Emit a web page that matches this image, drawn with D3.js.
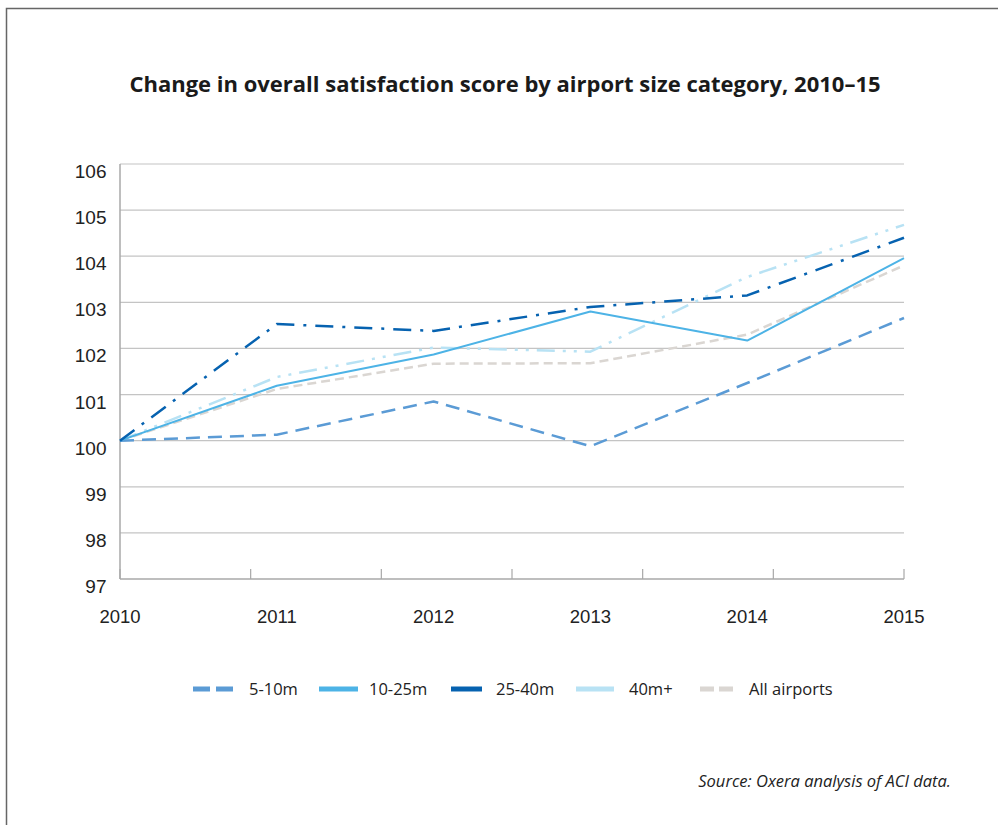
<!DOCTYPE html>
<html><head><meta charset="utf-8">
<script src="https://cdn.jsdelivr.net/npm/d3@7/dist/d3.min.js"></script>
<style>body{margin:0;background:#fff}svg{display:block}</style>
</head><body>
<svg id="c" width="998" height="825"></svg>
<script>
const years = [2010, 2011, 2012, 2013, 2014, 2015];
const yTicks = [97, 98, 99, 100, 101, 102, 103, 104, 105, 106];
const seriesNames = ["5-10m", "10-25m", "25-40m", "40m+", "All airports"];
const s5to10 = [100, 100.13, 100.85, 99.88, 101.25, 102.66];
const s10to25 = [100, 101.19, 101.87, 102.8, 102.17, 103.96];
const s25to40 = [100, 102.53, 102.38, 102.9, 103.15, 104.4];
const s40plus = [100, 101.38, 102.02, 101.93, 103.55, 104.68];
const sAll = [100, 101.12, 101.67, 101.68, 102.3, 103.8];
const title = "Change in overall satisfaction score by airport size category, 2010–15";
const source = "Source: Oxera analysis of ACI data.";

const styles = {
  "5-10m": {color: "#5b9bd5", dash: "14,8", w: 2.5},
  "10-25m": {color: "#4db3e6", dash: null, w: 2},
  "25-40m": {color: "#0662b0", dash: "18,9,3,9", w: 2.5},
  "40m+": {color: "#b8e2f4", dash: "18,8,3,8,3,8", w: 2.5},
  "All airports": {color: "#dad6d2", dash: "9,5", w: 2.5}
};
const seriesData = {"5-10m": s5to10, "10-25m": s10to25, "25-40m": s25to40, "40m+": s40plus, "All airports": sAll};

const svg = d3.select("#c");
const L = 120, R = 904, T = 164, B = 579;
const x = d3.scaleLinear().domain([2010, 2015]).range([L, R]);
const y = d3.scaleLinear().domain([97, 106]).range([B, T]);
const font = "'Liberation Sans', Arial, sans-serif";
const font2 = "'Open Sans', 'Noto Sans', sans-serif";

// frame
svg.append("path").attr("d", `M6.5,825 V8.5 H998`).attr("fill", "none").attr("stroke", "#666").attr("stroke-width", 1.5);

// title
svg.append("text").attr("x", 505).attr("y", 92).attr("text-anchor", "middle")
  .attr("font-family", font2).attr("font-weight", "bold").attr("font-size", 22).attr("fill", "#1a1a1a")
  .text(title);

// gridlines
svg.append("g").selectAll("line").data(yTicks.filter(d => d > 97)).join("line")
  .attr("x1", L).attr("x2", R).attr("y1", d => y(d)).attr("y2", d => y(d))
  .attr("stroke", "#c4c4c4").attr("stroke-width", 1.2);

// y labels
svg.append("g").selectAll("text").data(yTicks).join("text")
  .attr("x", 106.5).attr("y", d => y(d) + 14).attr("text-anchor", "end")
  .attr("font-family", font).attr("font-size", 19).attr("fill", "#222")
  .text(d => d);

// axes
svg.append("line").attr("x1", L).attr("x2", L).attr("y1", T).attr("y2", B).attr("stroke", "#a8a8a8").attr("stroke-width", 1.5);
svg.append("line").attr("x1", L).attr("x2", R).attr("y1", B).attr("y2", B).attr("stroke", "#a8a8a8").attr("stroke-width", 1.5);
const tickScale = d3.scaleLinear().domain([0, 6]).range([L, R]);
svg.append("g").selectAll("line").data(d3.range(7)).join("line")
  .attr("x1", d => tickScale(d)).attr("x2", d => tickScale(d)).attr("y1", B).attr("y2", B - 10)
  .attr("stroke", "#a8a8a8").attr("stroke-width", 1.2);

// x labels
svg.append("g").selectAll("text").data(years).join("text")
  .attr("x", d => x(d)).attr("y", 623).attr("text-anchor", "middle")
  .attr("font-family", font).attr("font-size", 18.5).attr("fill", "#222").text(d => d);

// lines
const line = d3.line().x((d, i) => x(years[i])).y(d => y(d));
const drawOrder = ["All airports", "40m+", "5-10m", "10-25m", "25-40m"];
svg.append("g").selectAll("path").data(drawOrder).join("path")
  .attr("d", k => line(seriesData[k]))
  .attr("fill", "none").attr("stroke", k => styles[k].color).attr("stroke-width", k => styles[k].w)
  .attr("stroke-dasharray", k => styles[k].dash).attr("stroke-linejoin", "round");

// legend
const legendX = {"5-10m": [193, 249], "10-25m": [319, 369], "25-40m": [451, 496], "40m+": [576, 629], "All airports": [700, 749]};
const legendW = {"5-10m": 41, "10-25m": 39, "25-40m": 31, "40m+": 38, "All airports": 33};
const legendDash = {"5-10m": "17,6", "All airports": "14,5"};
const lg = svg.append("g");
seriesNames.forEach(k => {
  lg.append("line").attr("x1", legendX[k][0]).attr("x2", legendX[k][0] + legendW[k]).attr("y1", 689).attr("y2", 689)
    .attr("stroke", styles[k].color).attr("stroke-width", 5).attr("stroke-dasharray", legendDash[k] || null);
  lg.append("text").attr("x", legendX[k][1]).attr("y", 695).attr("font-family", font2).attr("font-size", 16.5)
    .attr("fill", "#222").text(k);
});

// source
svg.append("text").attr("x", 951).attr("y", 787).attr("text-anchor", "end").attr("font-family", font2)
  .attr("font-style", "italic").attr("font-size", 16.5).attr("fill", "#222").text(source);
</script>
</body></html>
